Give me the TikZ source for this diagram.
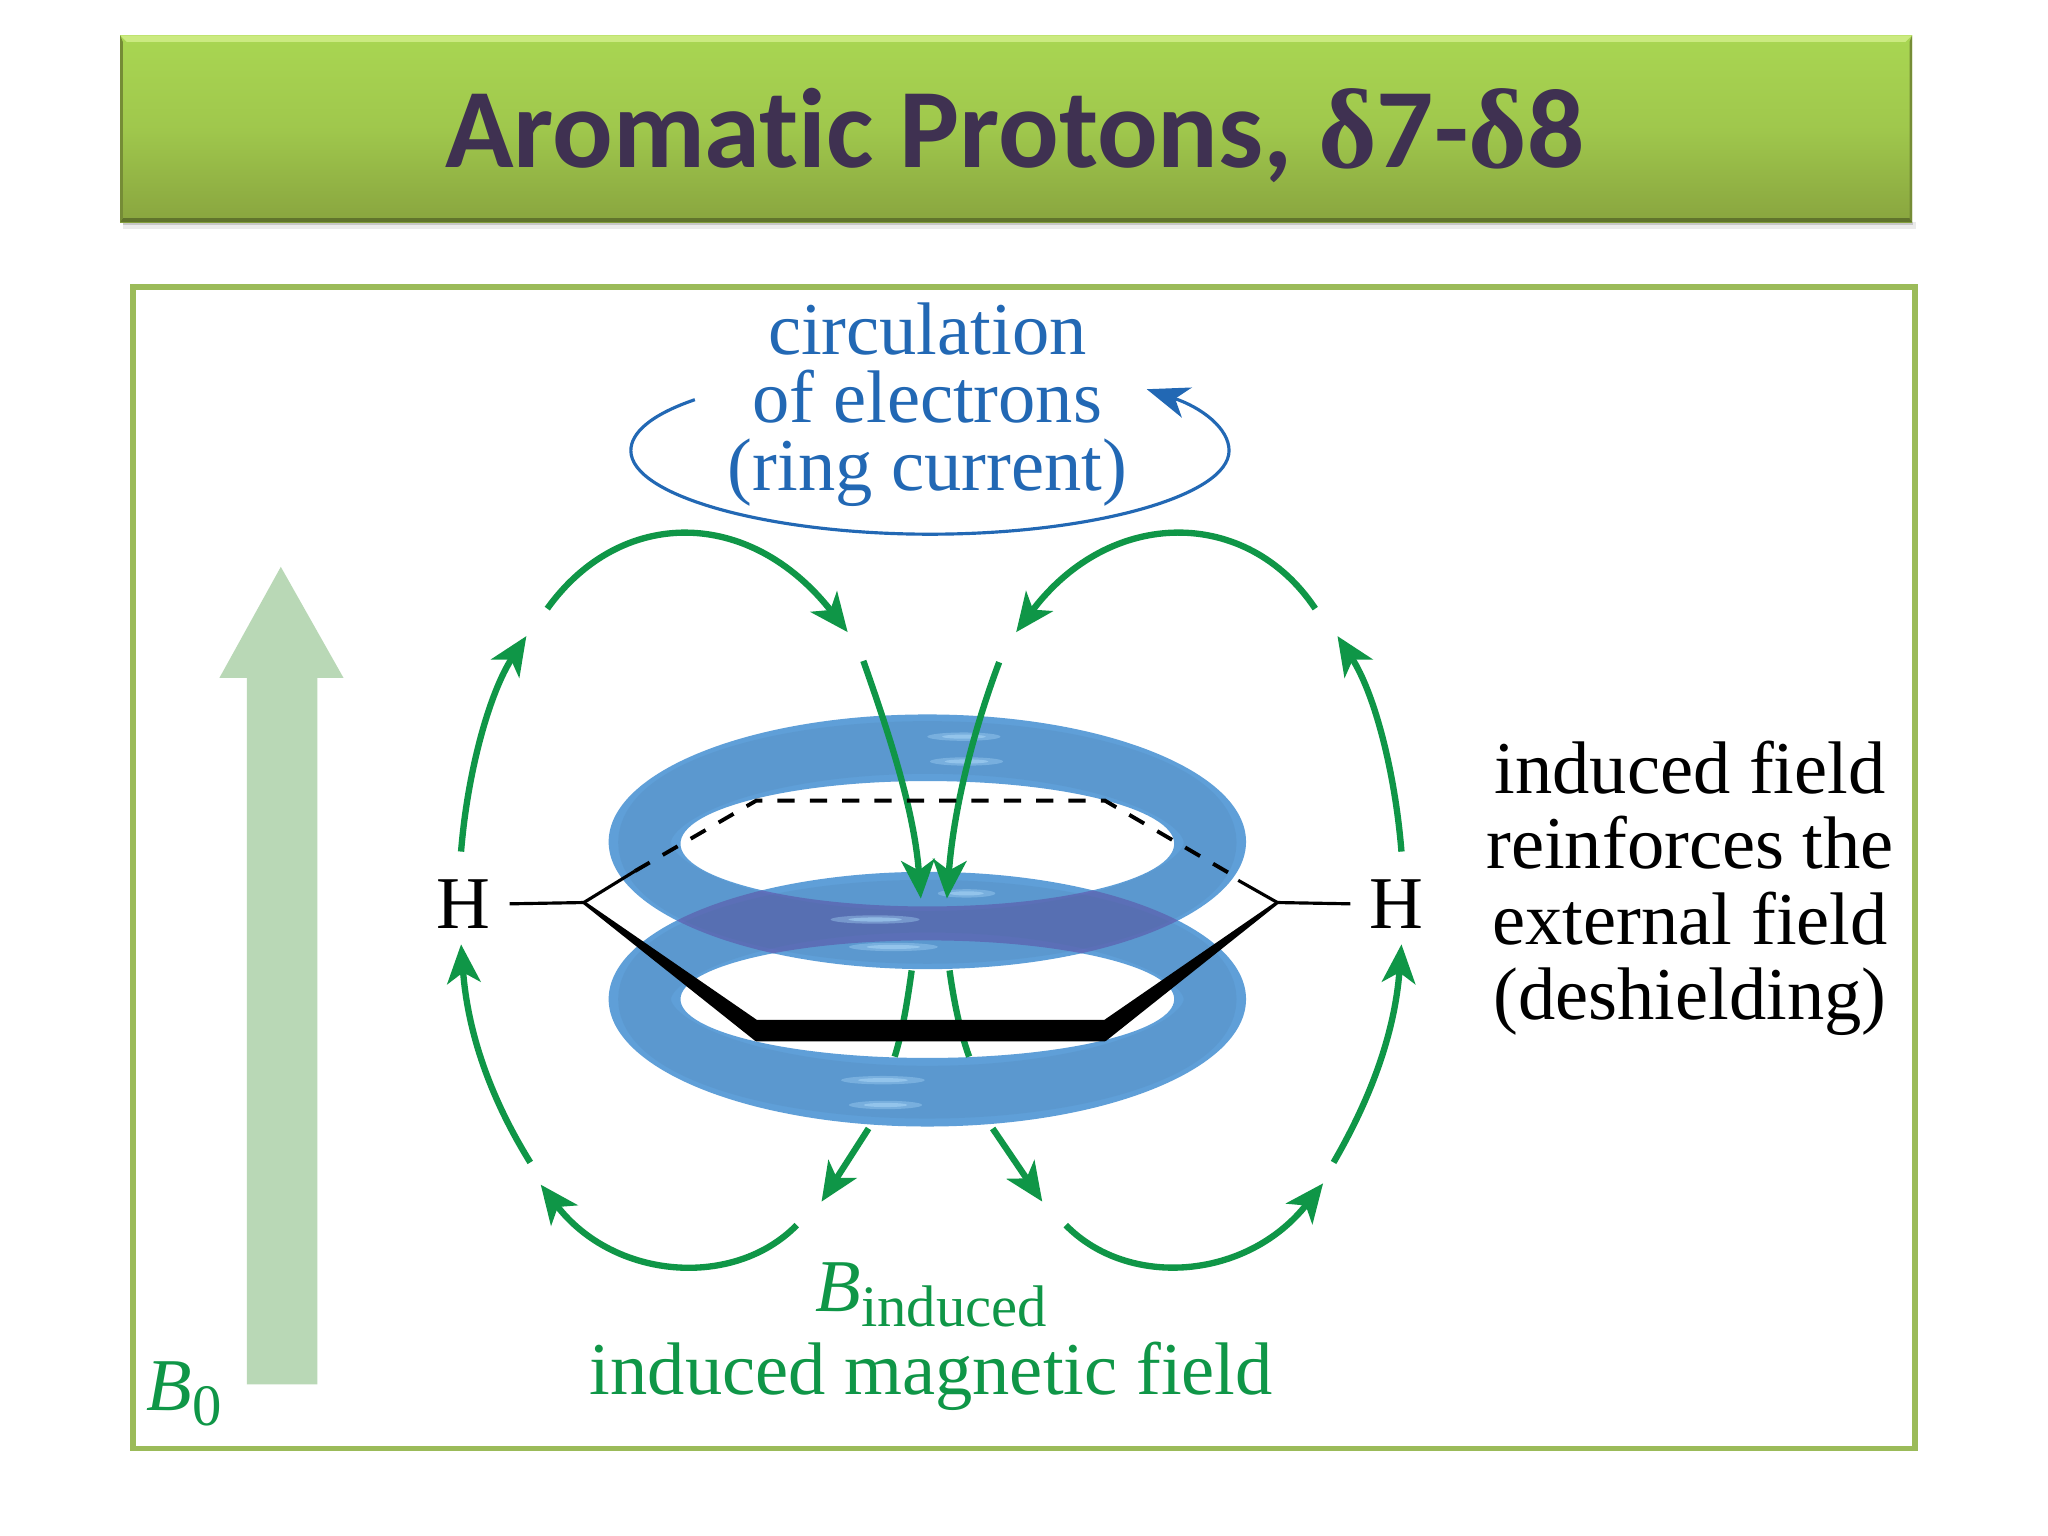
\documentclass[tikz,border=0pt]{standalone}
\usepackage{amsmath}
\usepackage{fontspec}
\usepackage{tikz}
\usetikzlibrary{arrows.meta,calc}
\setmainfont[Ligatures=NoCommon]{Liberation Serif}
\newfontfamily\titlefont[Ligatures=NoCommon]{Carlito}
\newfontfamily\deltafont{Liberation Serif}
\definecolor{bannertop}{HTML}{A9D652}
\definecolor{bannerbot}{HTML}{89A53F}
\definecolor{bannerlite}{HTML}{CBEA80}
\definecolor{titleink}{HTML}{3F3151}
\definecolor{panelline}{HTML}{9BBB59}
\definecolor{ringblue}{HTML}{5F9FD8}
\definecolor{ringover}{HTML}{5F70BC}
\definecolor{ringshine}{HTML}{A5D3F5}
\definecolor{fieldgreen}{HTML}{0F9647}
\definecolor{currentblue}{HTML}{2268B4}
\definecolor{bzero}{HTML}{B9D8B6}
\newcommand{\subtext}[1]{\raisebox{-4.2pt}{\fontsize{16.7}{18}\selectfont #1}}
\tikzset{
  fieldarrow/.style={draw=fieldgreen,line width=1.8pt,-{Stealth[length=11pt,width=9.5pt,inset=3pt]}},
  fieldline/.style={draw=fieldgreen,line width=1.8pt},
  bodytext/.style={font=\fontsize{21.2}{21.5}\selectfont,inner sep=0pt},
  thinbond/.style={draw=black,line width=0.9pt},
  tubeband/.style={draw=ringblue!70!black,opacity=0.13,line width=15pt}
}
\begin{document}
\begin{tikzpicture}[x=0.13061mm,y=-0.13061mm]
\useasboundingbox (0,0) rectangle (1568,1176);
\fill[white] (0,0) rectangle (1568,1176);
% banner
\fill[black,opacity=0.08] (94,170) rectangle (1467,175);
\fill[black,opacity=0.15] (94,170) rectangle (1465,172);
\shade[top color=bannertop,bottom color=bannerbot,middle color=bannertop!70!bannerbot] (92,27) rectangle (1464,170);
\fill[bannerlite] (92,27) -- (1464,27) -- (1459,32) -- (97,32) -- cycle;
\fill[bannerbot!70!black] (92,170) -- (1464,170) -- (1462,167) -- (94,167) -- cycle;
\fill[bannerbot!85!black] (92,27) -- (94,32) -- (94,167) -- (92,170) -- cycle;
\fill[bannerbot!85!black] (1464,27) -- (1462,32) -- (1462,167) -- (1464,170) -- cycle;
\node[anchor=base,text=titleink,inner sep=0pt] (title) at (777,128) {\fontsize{32.15}{36}\selectfont\titlefont\bfseries Aromatic Protons, {\deltafont δ}7-{\deltafont δ}8};
% panel
\draw[panelline,line width=1.7pt] (102,220) rectangle (1466,1109);
% external field
\fill[bzero] (189,1060) -- (189,519) -- (168,519) -- (215,434) -- (263,519) -- (243,519) -- (243,1060) -- cycle;
\node[text=fieldgreen,bodytext,anchor=base west] (bzerolabel) at (112,1080) {\textit{B}\subtext{0}};
% rings
\fill[ringblue,even odd rule] (710,644.5) ellipse (244 and 97.5) (710,646) ellipse (189 and 48);
\fill[ringblue,even odd rule] (710,765) ellipse (244 and 97.5) (710,765) ellipse (189 and 45);
\begin{scope}[even odd rule]
\clip (710,644.5) ellipse (244 and 97.5) (710,646) ellipse (189 and 48);
\fill[ringover] (710,765) ellipse (244 and 97.5) (710,765) ellipse (189 and 45);
\end{scope}
\draw[tubeband] (710,645) ellipse (216.5 and 72.7);
\draw[tubeband] (710,765) ellipse (216.5 and 71.2);
\foreach \shx/\shy/\shw in {738/564/28,740/583/28,670/704/34,684/725/34,676/827/32,678/846/28,740/684/22}{
  \fill[ringshine,opacity=0.4] (\shx,\shy) ellipse ({\shw} and 3.2);
  \fill[ringshine,opacity=0.6] (\shx,\shy) ellipse ({0.6*\shw} and 1.6);
}
% ring current
\node[text=currentblue,align=center,bodytext,font=\fontsize{21.2}{19.3}\selectfont] (current) at (710,310) {circulation\\of electrons\\(ring current)};
\draw[currentblue,line width=0.9pt,-{Stealth[length=12pt,width=9pt,inset=3.5pt]}] (532,306) .. controls (497,318) and (483,332) .. (483,345) .. controls (483,380) and (590,409) .. (712,409) .. controls (835,409) and (941,380) .. (941,345) .. controls (941,328) and (920,312) .. (878,298);
% induced field
\draw[fieldarrow] (353,652) .. controls (358,590) and (375,530) .. (403,487);
\draw[fieldarrow] (419,466) .. controls (475,388) and (574,388) .. (649,484);
\draw[fieldarrow] (661,506) .. controls (680,560) and (700,620) .. (705,688);
\draw[fieldarrow] (765,507) .. controls (745,560) and (730,620) .. (725,688);
\draw[fieldarrow] (1007,466) .. controls (955,388) and (850,388) .. (778,484);
\draw[fieldarrow] (1073,652) .. controls (1068,590) and (1052,530) .. (1024,487);
\draw[fieldarrow] (406,890) .. controls (375,840) and (358,790) .. (353,723);
\draw[fieldarrow] (610,938) .. controls (562,987) and (470,980) .. (414,907);
\draw[fieldarrow] (1021,890) .. controls (1050,840) and (1068,790) .. (1073,723);
\draw[fieldarrow] (816,938) .. controls (864,987) and (955,980) .. (1013,906);
\draw[fieldline] (698,743) .. controls (695,765) and (691,790) .. (685,809);
\draw[fieldline] (727,743) .. controls (730,765) and (735,790) .. (742,809);
\draw[fieldarrow] (665,864) -- (629,920);
\draw[fieldarrow] (760,864) -- (798,920);
% benzene
\coordinate (c1) at (447,691);
\coordinate (c2) at (579,613);
\coordinate (c3) at (846,613);
\coordinate (c4) at (978,691);
\node[bodytext] (hleft) at (355,692) {H};
\node[bodytext] (hright) at (1069,692) {H};
\draw[thinbond] ($(hleft.east)+(14,0)$) -- (c1);
\draw[thinbond] (c4) -- ($(hright.west)+(-14,0)$);
\draw[thinbond] (c1) -- (486,667);
\draw[thinbond] (c4) -- (948,674);
\draw[thinbond,dash pattern=on 4.9pt off 4.3pt,line width=1.1pt] (486,667) -- (c2) -- (c3) -- (942,669);
\filldraw[black,line width=0.9pt,line join=round] (c1) -- (579,782) -- (846,782) -- (c4) -- (846,796) -- (579,796) -- cycle;
% labels
\node[text=black,align=center,bodytext] (note) at (1294,680) {induced field\\reinforces the\\external field\\(deshielding)};
\node[text=fieldgreen,bodytext,anchor=base] (binduced) at (713,1004) {\textit{B}\subtext{induced}};
\node[text=fieldgreen,bodytext,anchor=base] (inducedlabel) at (713,1068) {induced magnetic field};
\end{tikzpicture}
\end{document}
